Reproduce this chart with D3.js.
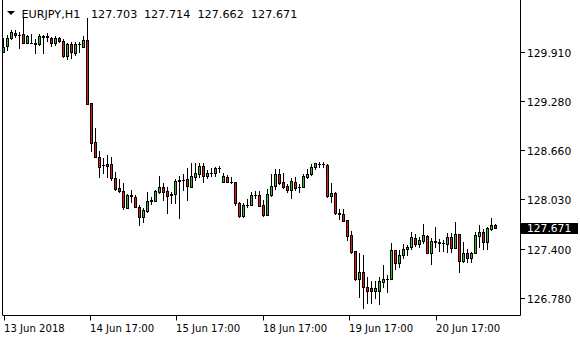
<!DOCTYPE html>
<html><head><meta charset="utf-8">
<script src="https://cdn.jsdelivr.net/npm/d3@7/dist/d3.min.js"></script>
<style>html,body{margin:0;padding:0;background:#fff;}svg{display:block;}</style>
</head><body><svg id="c" width="580" height="340"></svg>
<script>
const symbol = "EURJPY,H1";
const lastOHLC = ["127.703", "127.714", "127.662", "127.671"];
const opens = [129.907,129.983,130.085,130.148,130.123,130.136,130.021,130.021,130.017,130.004,130.097,130.101,130.081,130.017,130.081,130.050,129.856,130.008,129.890,130.002,129.974,130.059,129.262,128.758,128.575,128.469,128.482,128.482,128.300,128.173,128.138,127.918,128.079,128.066,127.931,127.804,127.888,128.015,128.015,128.130,128.186,128.138,128.097,128.097,128.270,128.278,128.287,128.193,128.320,128.351,128.460,128.333,128.364,128.364,128.427,128.257,128.320,128.257,128.257,127.990,127.824,127.960,127.960,128.088,128.088,127.960,127.833,128.088,128.206,128.355,128.249,128.202,128.151,128.249,128.186,128.186,128.320,128.351,128.440,128.478,128.482,128.469,128.079,128.109,127.855,127.851,127.770,127.579,127.375,127.019,127.104,126.921,126.901,126.870,126.870,126.985,127.019,127.019,127.388,127.219,127.318,127.401,127.426,127.537,127.461,127.506,127.566,127.346,127.502,127.494,127.481,127.461,127.550,127.417,127.592,127.252,127.346,127.282,127.346,127.570,127.613,127.486,127.655,127.703];
const highs = [130.085,130.123,130.180,130.186,130.165,130.339,130.123,130.136,130.068,130.132,130.123,130.144,130.101,130.110,130.101,130.068,130.025,130.030,130.038,130.038,130.110,130.339,129.262,128.944,128.647,128.554,128.596,128.575,128.384,128.291,128.236,128.097,128.145,128.088,127.960,127.918,128.122,128.066,128.145,128.329,128.236,128.186,128.130,128.287,128.329,128.355,128.427,128.491,128.491,128.491,128.491,128.406,128.427,128.448,128.456,128.364,128.342,128.320,128.257,128.002,127.982,128.033,128.130,128.142,128.142,128.024,128.160,128.355,128.415,128.415,128.364,128.228,128.300,128.320,128.224,128.355,128.415,128.478,128.498,128.504,128.504,128.478,128.236,128.122,127.906,127.906,127.770,127.630,127.375,127.346,127.320,127.048,126.994,126.994,127.048,127.197,127.070,127.481,127.388,127.388,127.464,127.452,127.621,127.592,127.550,127.712,127.579,127.537,127.684,127.524,127.515,127.608,127.600,127.748,127.592,127.494,127.397,127.366,127.613,127.706,127.651,127.684,127.791,127.714];
const lows = [129.903,129.932,130.072,130.101,129.954,130.015,130.017,130.017,129.890,129.992,129.890,130.050,129.987,129.992,130.038,129.839,129.814,129.826,129.872,129.910,129.974,129.239,128.651,128.567,128.320,128.371,128.313,128.278,128.151,128.130,127.906,127.918,128.002,127.931,127.700,127.744,127.868,127.973,128.010,128.117,128.024,127.862,127.990,127.990,127.791,128.151,128.024,128.186,128.278,128.320,128.257,128.308,128.329,128.329,128.384,128.257,128.249,128.236,127.960,127.812,127.812,127.931,127.956,128.053,127.952,127.820,127.833,128.079,128.164,128.224,128.173,128.130,128.053,128.151,128.130,128.186,128.300,128.342,128.418,128.448,128.448,128.058,127.995,127.842,127.782,127.761,127.515,127.354,127.006,126.794,126.646,126.710,126.710,126.777,126.701,126.917,126.858,127.015,127.146,127.165,127.286,127.324,127.401,127.435,127.430,127.481,127.346,127.206,127.430,127.379,127.379,127.366,127.366,127.410,127.112,127.239,127.239,127.239,127.346,127.430,127.397,127.401,127.642,127.662];
const closes = [129.970,130.085,130.161,130.123,130.119,130.021,130.110,130.025,130.013,130.110,130.110,130.105,130.017,130.081,130.050,129.856,130.008,129.903,130.008,130.008,130.059,129.241,128.753,128.567,128.448,128.465,128.460,128.300,128.160,128.142,127.939,128.088,128.083,127.931,127.804,127.897,128.015,128.019,128.135,128.186,128.130,128.079,128.093,128.266,128.274,128.274,128.206,128.333,128.364,128.460,128.333,128.364,128.368,128.427,128.431,128.329,128.257,128.254,127.982,127.824,127.960,127.964,128.088,128.084,127.952,127.833,128.100,128.202,128.355,128.244,128.193,128.151,128.266,128.180,128.190,128.329,128.355,128.440,128.491,128.482,128.476,128.079,128.109,127.855,127.851,127.761,127.570,127.366,127.019,127.104,126.914,126.870,126.870,126.908,126.994,127.019,127.013,127.388,127.219,127.324,127.401,127.430,127.550,127.461,127.515,127.579,127.346,127.502,127.494,127.481,127.473,127.550,127.417,127.592,127.252,127.346,127.282,127.346,127.579,127.613,127.486,127.664,127.706,127.671];
const priceTicks = [129.910, 129.280, 128.660, 128.030, 127.400, 126.780];
const timeLabels = ["13 Jun 2018", "14 Jun 17:00", "15 Jun 17:00", "18 Jun 17:00", "19 Jun 17:00", "20 Jun 17:00"];
const timeLabelBars = [0, 21.6, 43.2, 64.8, 86.45, 108.1];
const lastPrice = 127.671;

const svg = d3.select("#c");
const W = 580, H = 340;
const plotRight = 520.5, plotBottom = 315.5, plotLeft = 2.5;
const x = d3.scaleLinear().domain([0, 1]).range([3.5, 7.5]);
const y = d3.scaleLinear().domain([126.78, 129.91]).range([297.7, 51.7]);
const green = "#35b935", red = "#e3161b";

const g = svg.append("g");
const candles = opens.map((o, i) => ({i, o, h: highs[i], l: lows[i], c: closes[i]}));

// wicks
g.selectAll("line.wick").data(candles).join("line")
  .attr("class", "wick")
  .attr("x1", d => x(d.i)).attr("x2", d => x(d.i))
  .attr("y1", d => Math.round(y(d.h)))
  .attr("y2", d => Math.round(y(d.l)) + 1)
  .attr("stroke", "#000").attr("stroke-width", 1);

// bodies
candles.forEach(d => {
  const yt = Math.round(y(Math.max(d.o, d.c)));
  const yb = Math.round(y(Math.min(d.o, d.c)));
  if (yb - yt < 1) {
    g.append("line").attr("x1", x(d.i) - 1.5).attr("x2", x(d.i) + 1.5)
      .attr("y1", yt + 0.5).attr("y2", yt + 0.5)
      .attr("stroke", "#000").attr("stroke-width", 1);
  } else {
    g.append("rect").attr("x", x(d.i) - 1).attr("y", yt + 0.5)
      .attr("width", 2).attr("height", yb - yt)
      .attr("fill", d.c > d.o ? green : red)
      .attr("stroke", "#000").attr("stroke-width", 1);
  }
});

// frame
svg.append("line").attr("x1", plotLeft).attr("x2", plotLeft).attr("y1", 0).attr("y2", plotBottom).attr("stroke", "#000");
svg.append("line").attr("x1", plotRight).attr("x2", plotRight).attr("y1", 0).attr("y2", plotBottom).attr("stroke", "#000");
svg.append("line").attr("x1", plotLeft).attr("x2", plotRight).attr("y1", plotBottom).attr("y2", plotBottom).attr("stroke", "#000");

// right axis
const fmt = d3.format(".3f");
priceTicks.forEach(p => {
  const yy = Math.round(y(p)) + 0.5;
  svg.append("line").attr("x1", plotRight).attr("x2", plotRight + 4.5).attr("y1", yy).attr("y2", yy).attr("stroke", "#000");
  svg.append("text").attr("x", 527).attr("y", yy + 4)
    .attr("font-family", "DejaVu Sans").attr("font-size", "10.7px").attr("fill", "#000")
    .text(fmt(p));
});
// current price box
const yl = y(lastPrice);
svg.append("rect").attr("x", plotRight + 0.5).attr("y", Math.round(yl) - 5).attr("width", 57).attr("height", 11).attr("fill", "#000");
svg.append("text").attr("x", 527).attr("y", Math.round(yl) + 4)
  .attr("font-family", "DejaVu Sans").attr("font-size", "10.7px").attr("fill", "#fff")
  .text(fmt(lastPrice));

// bottom axis
timeLabels.forEach((t, k) => {
  const xx = Math.round(x(timeLabelBars[k])) + 0.5;
  svg.append("line").attr("x1", xx).attr("x2", xx).attr("y1", plotBottom).attr("y2", plotBottom + 5).attr("stroke", "#000");
  svg.append("text").attr("x", xx - 0.5).attr("y", 331.5)
    .attr("font-family", "DejaVu Sans").attr("font-size", "10.1px").attr("fill", "#000")
    .text(t);
});

// header
svg.append("path").attr("d", "M7,11 L15,11 L11,15 Z").attr("fill", "#000");
svg.append("text").attr("x", 21.5).attr("y", 17.5)
  .attr("font-family", "DejaVu Sans").attr("font-size", "11.2px").attr("fill", "#000")
  .text(symbol);
const hx = [91, 144, 197.5, 251];
lastOHLC.forEach((v, k) => {
  svg.append("text").attr("x", hx[k]).attr("y", 17.5)
    .attr("font-family", "DejaVu Sans").attr("font-size", "11.2px").attr("fill", "#000")
    .text(v);
});
</script></body></html>
